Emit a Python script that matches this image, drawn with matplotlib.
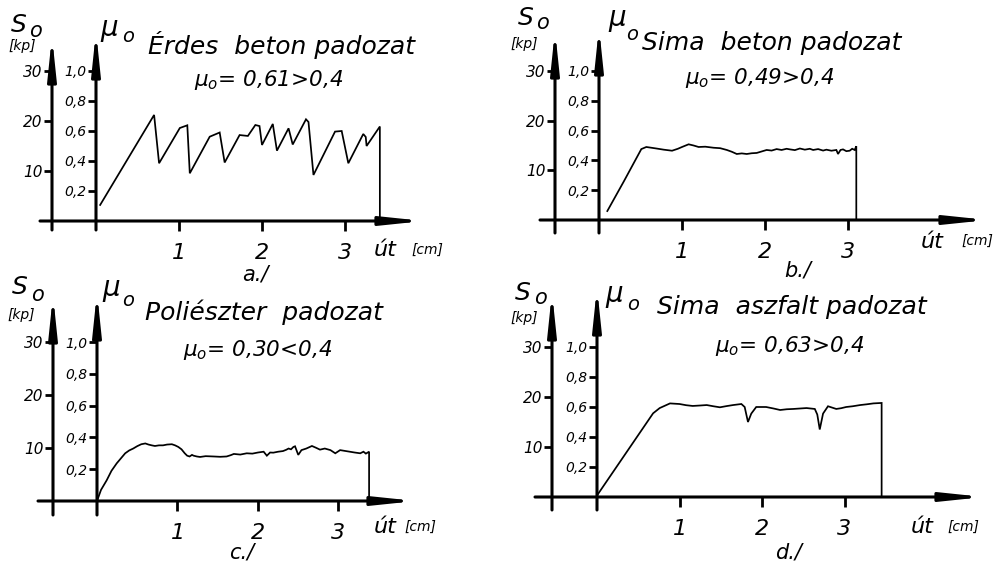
import matplotlib
matplotlib.use("Agg")
import matplotlib.pyplot as plt

plt.rcParams['font.family'] = ['DejaVu Sans']
plt.rcParams['font.style'] = 'italic'
plt.rcParams['mathtext.fontset'] = 'dejavusans'

W, H = 1002, 568

# ---------------- data (distance in cm, friction coefficient mu) ----------------
a_x = [0.05, 0.70, 0.76, 1.01, 1.10,
       1.13, 1.37, 1.49, 1.55, 1.73,
       1.83, 1.92, 1.97, 2.00, 2.13,
       2.18, 2.32, 2.37, 2.53, 2.56,
       2.62, 2.88, 2.96, 3.04, 3.22,
       3.25, 3.26, 3.42, 3.42]
a_mu = [0.107, 0.707, 0.385, 0.620, 0.638,
        0.318, 0.562, 0.590, 0.390, 0.573,
        0.567, 0.640, 0.633, 0.507, 0.647,
        0.469, 0.618, 0.510, 0.678, 0.660,
        0.307, 0.596, 0.600, 0.385, 0.580,
        0.560, 0.500, 0.630, 0.0]

b_x = [0.10, 0.30, 0.51, 0.57, 0.63,
       0.69, 0.78, 0.88, 0.95, 1.00,
       1.08, 1.14, 1.20, 1.28, 1.38,
       1.46, 1.54, 1.60, 1.66, 1.72,
       1.78, 1.84, 1.90, 1.96, 2.02,
       2.08, 2.14, 2.20, 2.26, 2.30,
       2.36, 2.42, 2.48, 2.54, 2.58,
       2.64, 2.70, 2.74, 2.80, 2.86,
       2.88, 2.91, 2.94, 2.98, 3.02,
       3.05, 3.08, 3.10, 3.10]
b_mu = [0.060, 0.260, 0.476, 0.490, 0.485,
        0.480, 0.472, 0.465, 0.478, 0.490,
        0.508, 0.500, 0.490, 0.492, 0.485,
        0.482, 0.470, 0.458, 0.443, 0.447,
        0.443, 0.448, 0.450, 0.460, 0.470,
        0.466, 0.476, 0.470, 0.478, 0.474,
        0.469, 0.480, 0.472, 0.478, 0.470,
        0.476, 0.466, 0.472, 0.465, 0.470,
        0.443, 0.470, 0.474, 0.462, 0.465,
        0.478, 0.470, 0.495, 0.0]

c_x = [0.00, 0.05, 0.12, 0.18, 0.245,
       0.30, 0.35, 0.40, 0.45, 0.50,
       0.55, 0.60, 0.64, 0.68, 0.72,
       0.77, 0.82, 0.87, 0.93, 0.97,
       1.01, 1.05, 1.09, 1.12, 1.15,
       1.18, 1.20, 1.24, 1.28, 1.35,
       1.45, 1.53, 1.61, 1.66, 1.70,
       1.78, 1.86, 1.93, 2.00, 2.07,
       2.11, 2.15, 2.19, 2.25, 2.31,
       2.35, 2.38, 2.41, 2.44, 2.46,
       2.50, 2.54, 2.60, 2.67, 2.72,
       2.77, 2.83, 2.90, 2.96, 3.02,
       3.08, 3.14, 3.20, 3.27, 3.31,
       3.34, 3.38, 3.38]
c_mu = [0.000, 0.070, 0.130, 0.190, 0.237,
        0.270, 0.300, 0.318, 0.330, 0.345,
        0.357, 0.362, 0.355, 0.350, 0.346,
        0.350, 0.350, 0.355, 0.357, 0.350,
        0.340, 0.325, 0.300, 0.285, 0.280,
        0.290, 0.285, 0.280, 0.277, 0.282,
        0.280, 0.278, 0.280, 0.288, 0.296,
        0.292, 0.300, 0.298, 0.305, 0.310,
        0.285, 0.305, 0.304, 0.310, 0.314,
        0.322, 0.330, 0.325, 0.340, 0.344,
        0.290, 0.320, 0.330, 0.346, 0.335,
        0.323, 0.330, 0.320, 0.300, 0.320,
        0.315, 0.310, 0.305, 0.300, 0.310,
        0.298, 0.310, 0.0]

d_x = [0.00, 0.68, 0.76, 0.885, 1.00,
       1.08, 1.16, 1.25, 1.33, 1.41,
       1.49, 1.57, 1.65, 1.75, 1.79,
       1.83, 1.87, 1.93, 2.05, 2.14,
       2.22, 2.30, 2.38, 2.46, 2.54,
       2.64, 2.67, 2.70, 2.74, 2.80,
       2.90, 2.96, 3.02, 3.10, 3.19,
       3.27, 3.35, 3.45, 3.45]
d_mu = [0.010, 0.558, 0.593, 0.624, 0.620,
        0.612, 0.607, 0.610, 0.613, 0.605,
        0.598, 0.606, 0.613, 0.620, 0.600,
        0.500, 0.556, 0.600, 0.600, 0.590,
        0.580, 0.585, 0.587, 0.590, 0.593,
        0.587, 0.550, 0.450, 0.556, 0.605,
        0.587, 0.592, 0.600, 0.605, 0.613,
        0.618, 0.624, 0.627, 0.0]

titles = ["Érdes  beton padozat", "Sima  beton padozat",
          "Poliészter  padozat", "Sima  aszfalt padozat"]
mu_texts = ["= 0,61>0,4", "= 0,49>0,4", "= 0,30<0,4", "= 0,63>0,4"]
panel_tags = ["a./", "b./", "c./", "d./"]
x_ticks = [1, 2, 3]
x_ticklabels = ["1", "2", "3"]
mu_ticks = [0.2, 0.4, 0.6, 0.8, 1.0]
mu_ticklabels = ["0,2", "0,4", "0,6", "0,8", "1,0"]
s_ticks = [10, 20, 30]
s_ticklabels = ["10", "20", "30"]
S_PER_MU = 30.0

series = [(a_x, a_mu), (b_x, b_mu), (c_x, c_mu), (d_x, d_mu)]

# ---------------- layout (pixels) ----------------
layout = [
    dict(ox=96, oy=221, sx=83, sy=150, xS=52, xl=40, xr=424, ytip=31, yStip=36, ybot=230,
         title=(281, 45), eq=(269, 80), tag=(255, 274), ut=(385, 250), cm=(427, 250),
         S=(19, 25), So=(35, 31), kp=(22, 46), mu=(109, 28), muo=(128, 37)),
    dict(ox=599, oy=220, sx=83, sy=149, xS=555, xl=540, xr=988, ytip=27, yStip=30, ybot=233,
         title=(772, 43), eq=(760, 78), tag=(798, 271), ut=(932, 242), cm=(977, 241),
         S=(526, 18), So=(542, 23), kp=(524, 44), mu=(617, 18), muo=(632, 34)),
    dict(ox=97, oy=501, sx=80.5, sy=159, xS=53, xl=38, xr=416, ytip=292, yStip=295, ybot=515,
         title=(264, 312), eq=(258, 350), tag=(242, 552), ut=(385, 527), cm=(420, 527),
         S=(20, 287), So=(37, 295), kp=(21, 315), mu=(111, 288), muo=(128, 300)),
    dict(ox=597, oy=497, sx=82.5, sy=150, xS=552, xl=535, xr=984, ytip=287, yStip=292, ybot=510,
         title=(792, 307), eq=(790, 346), tag=(788, 552), ut=(922, 527), cm=(963, 527),
         S=(523, 293), So=(540, 298), kp=(524, 318), mu=(614, 294), muo=(633, 305)),
]

fig = plt.figure(figsize=(W / 100, H / 100), dpi=100)
fig.patch.set_facecolor("white")


def fpos(p):
    return (p[0] / W, 1 - p[1] / H)


X0, X1, Y0, Y1 = -0.9, 4.8, -0.2, 1.45

for (xs, ys), L, title, eq, tag in zip(series, layout, titles, mu_texts, panel_tags):
    ox, oy, sx, sy = L["ox"], L["oy"], L["sx"], L["sy"]
    left = ox + X0 * sx
    right = ox + X1 * sx
    top = oy - Y1 * sy
    bottom = oy - Y0 * sy
    ax = fig.add_axes([left / W, 1 - bottom / H, (right - left) / W, (bottom - top) / H])
    ax.set_xlim(X0, X1)
    ax.set_ylim(Y0, Y1)
    ax.patch.set_visible(False)
    for s in ["top", "right"]:
        ax.spines[s].set_visible(False)
    ax.spines["left"].set_position(("data", 0))
    ax.spines["bottom"].set_position(("data", 0))
    ax.spines["left"].set_visible(False)
    ax.spines["bottom"].set_visible(False)

    def arrow(p0, p1):
        ax.annotate("", xy=p1, xytext=p0, xycoords="data", textcoords="data",
                    annotation_clip=False,
                    arrowprops=dict(arrowstyle="-|>,head_length=2.4,head_width=0.25",
                                    lw=2.2, color="black", shrinkA=0, shrinkB=0,
                                    mutation_scale=10))

    xS = (L["xS"] - ox) / sx
    arrow(((L["xl"] - ox) / sx, 0), ((L["xr"] - ox) / sx, 0))
    arrow((0, (oy - L["ybot"]) / sy), (0, (oy - L["ytip"]) / sy))
    arrow((xS, (oy - L["ybot"]) / sy), (xS, (oy - L["yStip"]) / sy))

    # curve
    ax.plot(xs, ys, color="black", lw=1.25, solid_joinstyle="miter", clip_on=False)

    # mu axis ticks
    ax.set_yticks(mu_ticks, mu_ticklabels)
    ax.tick_params(axis="y", direction="out", length=6, width=2, pad=1, labelsize=10)
    ax.set_xticks(x_ticks, x_ticklabels)
    ax.tick_params(axis="x", direction="out", length=7, width=2, pad=9, labelsize=16)

    # S axis via secondary axis
    loc = (xS - X0) / (X1 - X0)
    sec = ax.secondary_yaxis(loc, functions=(lambda m: m * S_PER_MU, lambda s: s / S_PER_MU))
    sec.set_yticks(s_ticks, s_ticklabels)
    for sp in sec.spines.values():
        sp.set_visible(False)
    sec.tick_params(direction="out", length=6, width=2, pad=1, labelsize=11)

    # texts
    fig.text(*fpos(L["title"]), title, ha="center", va="center", fontsize=18)
    fig.text(*fpos(L["eq"]), r"$\mu_o$" + eq, ha="center", va="center", fontsize=15.5)
    fig.text(*fpos(L["tag"]), tag, ha="center", va="center", fontsize=15)
    fig.text(*fpos(L["ut"]), "út", ha="center", va="center", fontsize=16)
    fig.text(*fpos(L["cm"]), "[cm]", ha="center", va="center", fontsize=10)
    fig.text(*fpos(L["S"]), "S", ha="center", va="center", fontsize=18)
    fig.text(*fpos(L["So"]), "o", ha="center", va="center", fontsize=15)
    fig.text(*fpos(L["kp"]), "[kp]", ha="center", va="center", fontsize=10)
    fig.text(*fpos(L["mu"]), "μ", ha="center", va="center", fontsize=20)
    fig.text(*fpos(L["muo"]), "o", ha="center", va="center", fontsize=14)

fig.savefig("out.png", dpi=100)
